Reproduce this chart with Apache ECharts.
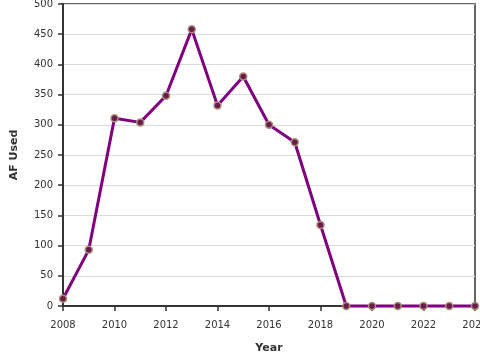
<!DOCTYPE html>
<html><head><meta charset="utf-8">
<script src="https://cdn.jsdelivr.net/npm/echarts@6/dist/echarts.min.js"></script>
<style>html,body{margin:0;padding:0;background:#fff}#c{width:480px;height:360px}</style>
</head><body><div id="c"></div>
<script>
const years = [2008,2009,2010,2011,2012,2013,2014,2015,2016,2017,2018,2019,2020,2021,2022,2023,2024];
const afUsed = [12,93,311,304,348,458,332,380,300,271,134,0,0,0,0,0,0];
const xTitle = 'Year';
const yTitle = 'AF Used';

const chart = echarts.init(document.getElementById('c'), null, {renderer:'canvas'});
const font = 'DejaVu Sans';
chart.setOption({
  animation:false,
  backgroundColor:'#fff',
  grid:{left:63,right:5,top:4,bottom:54,containLabel:false,outerBoundsMode:'none',
    show:true,borderColor:'#333',borderWidth:1.5,backgroundColor:'transparent'},
  xAxis:{type:'value',min:2008,max:2024,interval:2,
    name:xTitle,nameLocation:'middle',nameGap:37,
    nameTextStyle:{fontFamily:font,fontSize:11,fontWeight:'bold',color:'#333'},
    axisLine:{show:true,onZero:false,lineStyle:{color:'#333',width:2}},
    axisTick:{show:true,length:5,lineStyle:{color:'#333',width:1.5}},
    axisLabel:{fontFamily:font,fontSize:10,color:'#333',margin:14,formatter:v=>String(v)},
    splitLine:{show:false}},
  yAxis:{type:'value',min:0,max:500,interval:50,
    name:yTitle,nameLocation:'middle',nameGap:43,nameRotate:90,
    nameTextStyle:{fontFamily:font,fontSize:11,fontWeight:'bold',color:'#333'},
    axisLine:{show:true,lineStyle:{color:'#333',width:2}},
    axisTick:{show:true,length:5,lineStyle:{color:'#333',width:1.5}},
    axisLabel:{fontFamily:font,fontSize:10,color:'#333',margin:10},
    splitLine:{show:true,lineStyle:{color:'#dcdcdc',width:1}}},
  series:[{type:'line',data:years.map((y,i)=>[y,afUsed[i]]),
    lineStyle:{color:'#800080',width:3},
    symbol:'circle',symbolSize:7,
    itemStyle:{color:'#6a1a4c',borderColor:'#a89078',borderWidth:1.5},
    clip:false,z:5}]
});
</script></body></html>
